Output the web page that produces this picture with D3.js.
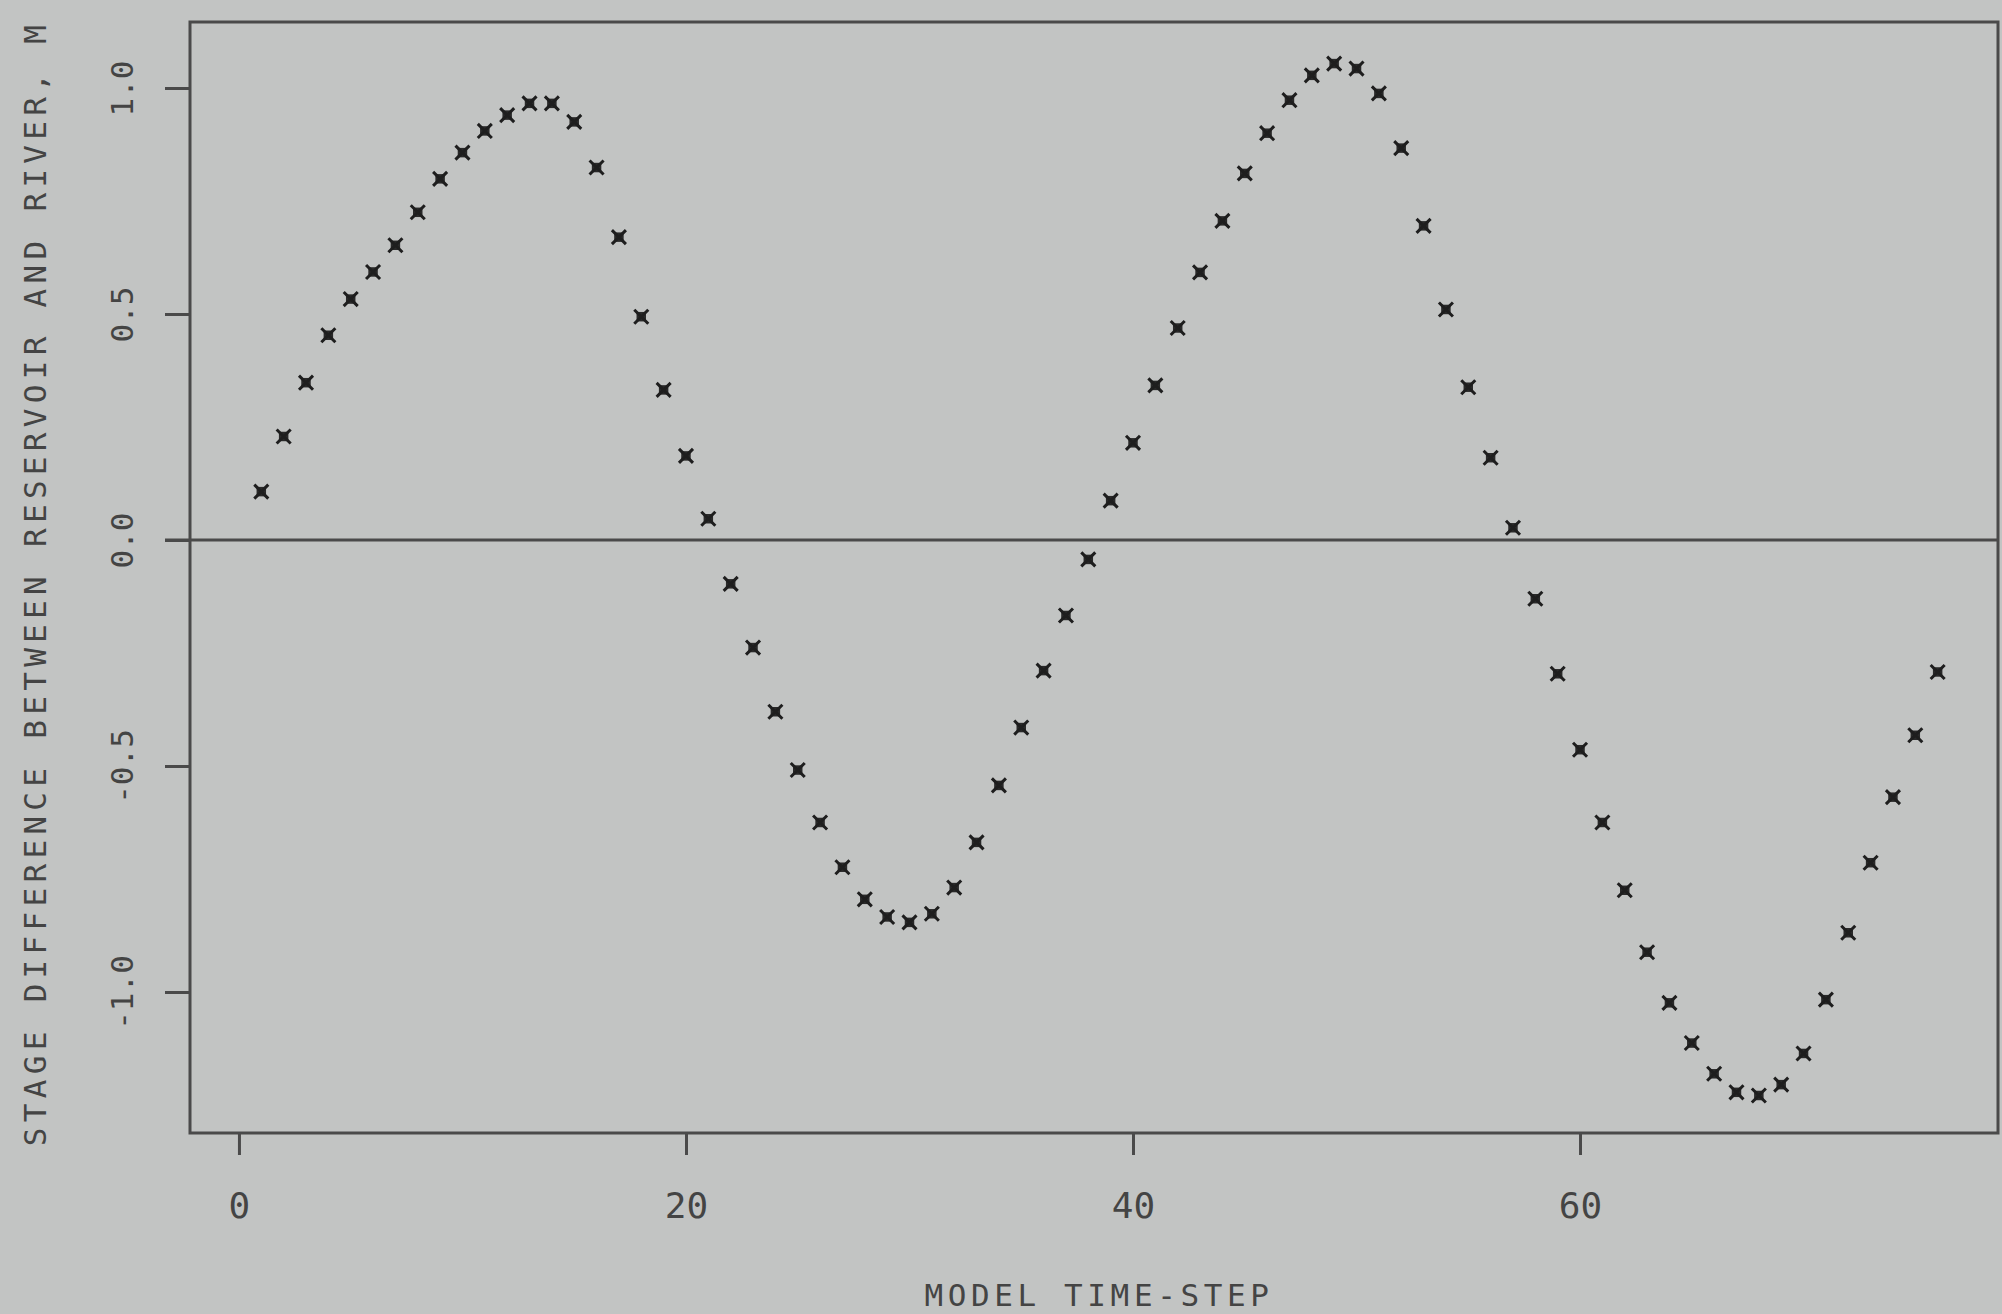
<!DOCTYPE html>
<html lang="en">
<head>
  <meta charset="UTF-8">
  <title>Stage difference between reservoir and river</title>
  <script src="https://d3js.org/d3.v7.min.js"></script>
  <style>
    html, body { margin: 0; padding: 0; background: #c2c4c3; }
    svg { display: block; }
    .axis text, .title { font-family: "DejaVu Sans Mono", monospace; fill: #444; }
    .x-axis text { font-size: 36px; }
    .y-axis text { font-size: 31px; }
    .title { font-size: 31px; letter-spacing: 4.6px; }
    .y-title { letter-spacing: 5.3px; }
  </style>
</head>
<body>
<div id="chart"></div>
<script>
const width = 2002;
const height = 1314;

// model time-steps and stage difference (m)
const timeSteps = [
  1, 2, 3, 4, 5, 6, 7, 8, 9, 10, 11, 12, 13, 14, 15, 16, 17, 18, 19, 20,
  21, 22, 23, 24, 25, 26, 27, 28, 29, 30, 31, 32, 33, 34, 35, 36, 37, 38, 39, 40,
  41, 42, 43, 44, 45, 46, 47, 48, 49, 50, 51, 52, 53, 54, 55, 56, 57, 58, 59, 60,
  61, 62, 63, 64, 65, 66, 67, 68, 69, 70, 71, 72, 73, 74, 75, 76
];
const stageDiff = [
  0.107, 0.229, 0.348, 0.453, 0.533, 0.593, 0.652, 0.725, 0.799, 0.857,
  0.905, 0.940, 0.966, 0.966, 0.925, 0.824, 0.670, 0.494, 0.332, 0.186,
  0.047, -0.097, -0.238, -0.380, -0.509, -0.625, -0.724, -0.795, -0.834, -0.846,
  -0.827, -0.769, -0.669, -0.543, -0.415, -0.289, -0.167, -0.043, 0.087, 0.215,
  0.342, 0.469, 0.592, 0.706, 0.811, 0.900, 0.973, 1.028, 1.054, 1.043,
  0.988, 0.867, 0.695, 0.510, 0.338, 0.182, 0.027, -0.130, -0.296, -0.464,
  -0.625, -0.775, -0.912, -1.024, -1.113, -1.181, -1.222, -1.229, -1.205, -1.136,
  -1.017, -0.869, -0.714, -0.569, -0.432, -0.292
];
const xTicks = [0, 20, 40, 60];
const yTicks = [-1.0, -0.5, 0.0, 0.5, 1.0];
const xLabel = "MODEL TIME-STEP";
const yLabel = "STAGE DIFFERENCE BETWEEN RESERVOIR AND RIVER, M";

const data = timeSteps.map((t, i) => ({ t: t, v: stageDiff[i] }));

const plot = { left: 190, right: 1998, top: 22, bottom: 1133 };

const x = d3.scaleLinear().domain([-2.19, 78.7]).range([plot.left, plot.right]);
const y = d3.scaleLinear().domain([-1.312, 1.146]).range([plot.bottom, plot.top]);

const svg = d3.select("#chart")
  .append("svg")
  .attr("width", width)
  .attr("height", height);

const ink = "#4a4a4a";

// frame
svg.append("rect")
  .attr("x", plot.left)
  .attr("y", plot.top)
  .attr("width", plot.right - plot.left)
  .attr("height", plot.bottom - plot.top)
  .attr("fill", "none")
  .attr("stroke", ink)
  .attr("stroke-width", 3);

// zero line, reaching past the axis like a tick
svg.append("line")
  .attr("x1", plot.left - 25)
  .attr("x2", plot.right)
  .attr("y1", y(0))
  .attr("y2", y(0))
  .attr("stroke", ink)
  .attr("stroke-width", 3);

const xAxis = svg.append("g")
  .attr("class", "axis x-axis")
  .attr("transform", `translate(0,${plot.bottom})`)
  .call(d3.axisBottom(x).tickValues(xTicks).tickSize(22).tickFormat(d3.format("d")));
xAxis.select(".domain").remove();
xAxis.selectAll("line").attr("stroke", ink).attr("stroke-width", 3);
xAxis.selectAll("text").attr("y", 85).attr("dy", 0).attr("fill", ink);

const yAxis = svg.append("g")
  .attr("class", "axis y-axis")
  .attr("transform", `translate(${plot.left},0)`)
  .call(d3.axisLeft(y).tickValues(yTicks).tickSize(25).tickFormat(d => d.toFixed(1)));
yAxis.select(".domain").remove();
yAxis.selectAll("line").attr("stroke", ink).attr("stroke-width", 3);
yAxis.selectAll("text")
  .attr("x", 0)
  .attr("dy", 0)
  .attr("text-anchor", "middle")
  .attr("transform", "translate(-57,0) rotate(-90)")
  .attr("fill", ink);

// axis titles
svg.append("text")
  .attr("class", "title")
  .attr("x", 1099)
  .attr("y", 1306)
  .attr("text-anchor", "middle")
  .text(xLabel);

svg.append("text")
  .attr("class", "title y-title")
  .attr("transform", "translate(46,583) rotate(-90)")
  .attr("text-anchor", "middle")
  .text(yLabel);

// points: plotter "x" drawn as a dense blob
const pts = svg.append("g")
  .selectAll("g")
  .data(data)
  .enter()
  .append("g")
  .attr("transform", d => `translate(${x(d.t)},${y(d.v)})`);

pts.append("path")
  .attr("d", d3.symbol().type(d3.symbolSquare).size(90))
  .attr("fill", "#2a2a2a");

pts.append("path")
  .attr("d", d3.symbol().type(d3.symbolTimes).size(130))
  .attr("fill", "none")
  .attr("stroke", "#1e1e1e")
  .attr("stroke-width", 3);
</script>
</body>
</html>
